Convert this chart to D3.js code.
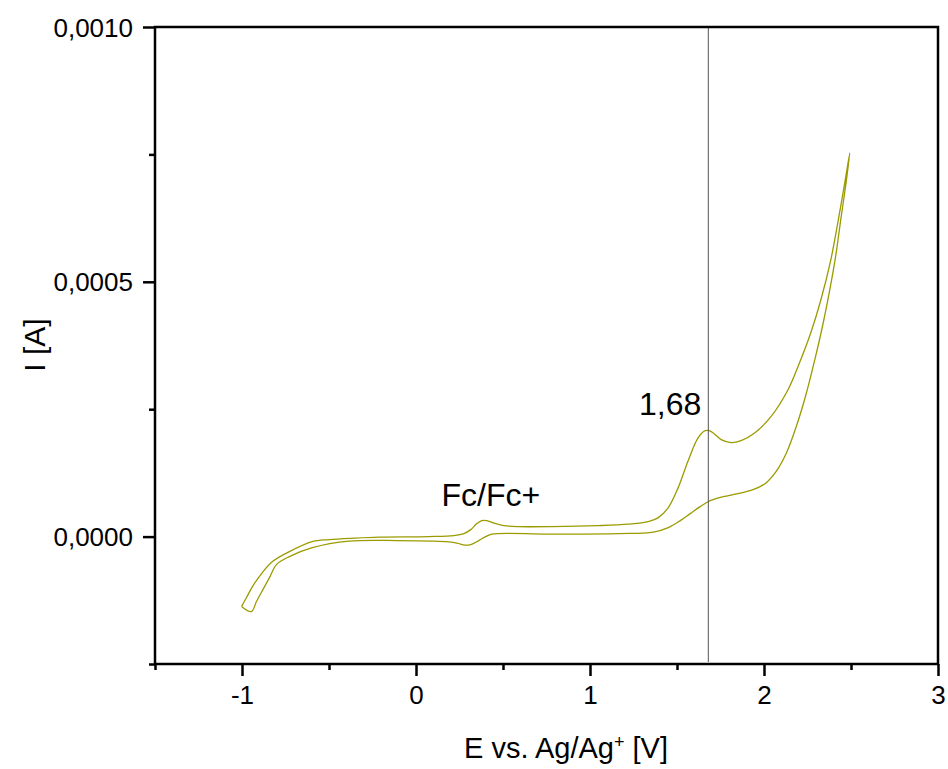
<html>
<head>
<meta charset="utf-8">
<title>CV</title>
<style>
  body { margin: 0; background: #fff; }
  text { font-family: "Liberation Sans", Arial, sans-serif; }
</style>
</head>
<body>
<script src="https://cdn.jsdelivr.net/npm/d3@7/dist/d3.min.js"></script>
<script>
// forward scan (upper branch), E in V, I in 1e-4 A
var fwdE = [-1.003, -0.974, -0.940, -0.883, -0.825, -0.728, -0.596, -0.499, -0.355, -0.212, 0.074, 0.218, 0.275, 0.315, 0.350, 0.378, 0.407, 0.447, 0.504, 0.590, 0.779, 1.049, 1.221, 1.335, 1.393, 1.450, 1.507, 1.564, 1.622, 1.662, 1.685, 1.713, 1.754, 1.811, 1.868, 1.948, 2.040, 2.138, 2.195, 2.269, 2.327, 2.384, 2.424, 2.464, 2.493];
var fwdI = [-1.373, -1.196, -0.980, -0.706, -0.490, -0.294, -0.098, -0.059, -0.030, -0.010, 0.0, 0.020, 0.059, 0.137, 0.255, 0.314, 0.314, 0.265, 0.216, 0.196, 0.196, 0.216, 0.245, 0.294, 0.373, 0.569, 0.961, 1.490, 1.941, 2.078, 2.078, 2.020, 1.902, 1.843, 1.882, 2.039, 2.353, 2.882, 3.333, 4.000, 4.647, 5.431, 6.157, 6.941, 7.529];
// reverse scan (lower branch)
var revE = [2.493, 2.470, 2.441, 2.413, 2.378, 2.338, 2.292, 2.241, 2.189, 2.132, 2.069, 2.006, 1.937, 1.851, 1.765, 1.691, 1.633, 1.576, 1.519, 1.450, 1.364, 1.163, 0.762, 0.436, 0.401, 0.361, 0.315, 0.281, 0.235, 0.172, -0.097, -0.384, -0.596, -0.728, -0.802, -0.842, -0.883, -0.917, -0.946];
var revI = [7.529, 6.902, 6.216, 5.529, 4.843, 4.157, 3.471, 2.784, 2.196, 1.667, 1.275, 1.039, 0.922, 0.843, 0.784, 0.706, 0.588, 0.451, 0.314, 0.176, 0.088, 0.059, 0.049, 0.049, 0.0, -0.078, -0.157, -0.167, -0.127, -0.098, -0.078, -0.088, -0.216, -0.392, -0.549, -0.804, -1.059, -1.275, -1.471];

var xTicks = [-1, 0, 1, 2, 3];
var yTicks = [0, 0.0005, 0.0010];
var markE = 1.68;

var width = 948, height = 769;
var margin = {top: 27, right: 10, bottom: 105, left: 155};
var w = width - margin.left - margin.right;
var h = height - margin.top - margin.bottom;

var svg = d3.select("body").append("svg")
    .attr("width", width)
    .attr("height", height);
var g = svg.append("g").attr("transform", "translate(" + margin.left + "," + margin.top + ")");

var x = d3.scaleLinear().domain([-1.5, 3]).range([0, w]);
var y = d3.scaleLinear().domain([-0.00025, 0.001]).range([h, 0]);

var pts = [];
for (var i = 0; i < fwdE.length; i++) pts.push([fwdE[i], fwdI[i] * 1e-4]);
for (var j = 1; j < revE.length; j++) pts.push([revE[j], revI[j] * 1e-4]);
pts.push([fwdE[0], fwdI[0] * 1e-4]);

var line = d3.line()
    .x(function(d) { return x(d[0]); })
    .y(function(d) { return y(d[1]); })
    .curve(d3.curveCatmullRom.alpha(0.5));

g.append("path")
    .datum(pts)
    .attr("d", line)
    .attr("fill", "none")
    .attr("stroke", "#9b9b00")
    .attr("stroke-width", 1.3);

// marker line
g.append("line")
    .attr("x1", x(markE)).attr("x2", x(markE))
    .attr("y1", 0).attr("y2", h - 2)
    .attr("stroke", "#555")
    .attr("stroke-width", 1);

function comma(v) { return d3.format(".4f")(v).replace(".", ","); }

// minor ticks
var xAxisMinor = d3.axisBottom(x).tickValues([-1.5, -0.5, 0.5, 1.5, 2.5]).tickSize(6).tickFormat("");
var yAxisMinor = d3.axisLeft(y).tickValues([-0.00025, 0.00025, 0.00075]).tickSize(6).tickFormat("");
g.append("g").attr("transform", "translate(0," + h + ")").call(xAxisMinor);
g.append("g").call(yAxisMinor);

var xAxis = d3.axisBottom(x).tickValues(xTicks).tickSize(12).tickPadding(10).tickFormat(function(d) { return String(d); });
var yAxis = d3.axisLeft(y).tickValues(yTicks).tickSize(12).tickPadding(10).tickFormat(comma);
var gx = g.append("g").attr("transform", "translate(0," + h + ")").call(xAxis);
var gy = g.append("g").call(yAxis);

svg.selectAll(".domain").remove();
svg.selectAll(".tick line").attr("stroke", "#000").attr("stroke-width", 2.5);
gx.selectAll("text").attr("font-size", 26).attr("fill", "#000").attr("font-family", null);
gy.selectAll("text").attr("font-size", 26).attr("fill", "#000").attr("font-family", null).attr("dy", "0.35em");
svg.selectAll("g").attr("font-family", null);

// frame
g.append("rect")
    .attr("x", 0).attr("y", 0).attr("width", w).attr("height", h)
    .attr("fill", "none").attr("stroke", "#000").attr("stroke-width", 2.5);

// labels
svg.append("text")
    .attr("x", 566).attr("y", 758)
    .attr("text-anchor", "middle").attr("font-size", 29)
    .html('E vs. Ag/Ag<tspan baseline-shift="super" font-size="18">+</tspan> [V]');

svg.append("text")
    .attr("transform", "translate(45,345) rotate(-90)")
    .attr("text-anchor", "middle").attr("font-size", 30)
    .text("I [A]");

g.append("text")
    .attr("x", x(0.43)).attr("y", y(0.0000608))
    .attr("text-anchor", "middle").attr("font-size", 32)
    .text("Fc/Fc+");

g.append("text")
    .attr("x", x(markE) - 7).attr("y", y(0.000239))
    .attr("text-anchor", "end").attr("font-size", 32)
    .text("1,68");
</script>
</body>
</html>
